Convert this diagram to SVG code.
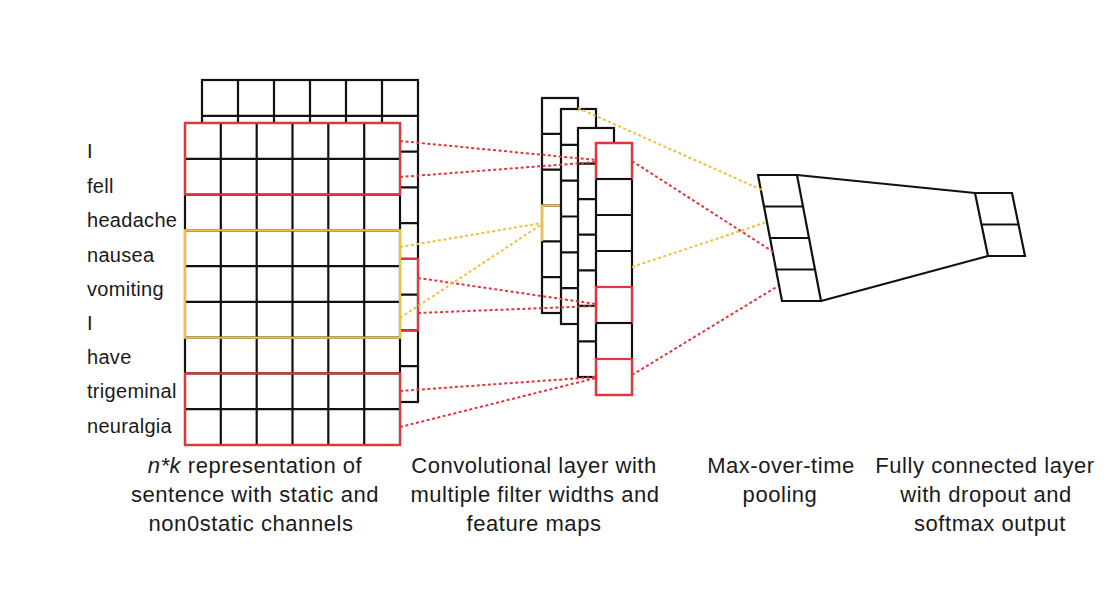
<svg xmlns="http://www.w3.org/2000/svg" width="1106" height="608" viewBox="0 0 1106 608">
<style>
.cell{fill:#fff;stroke:#111;stroke-width:2.2}
.ln{fill:none;stroke:#111;stroke-width:2.2}
.hr{fill:none;stroke:#e2363c;stroke-width:2.2}
.hy{fill:none;stroke:#f0bf3c;stroke-width:2.2}
.dr{fill:none;stroke:#e2363c;stroke-width:2;stroke-dasharray:3 2.5}
.dy{fill:none;stroke:#f0bf3c;stroke-width:2;stroke-dasharray:3 2.5}
.w{font-family:"Liberation Sans",Arial,sans-serif;font-size:20px;fill:#1a1a1a;letter-spacing:0.3px}
.cap{font-family:"Liberation Sans",Arial,sans-serif;font-size:22px;fill:#1a1a1a;letter-spacing:0.55px;text-anchor:middle}
</style>
<rect width="1106" height="608" fill="#fff"/>

<g id="input-static">
<rect class="cell" x="202" y="80" width="216" height="322"/>
<path class="ln" d="M238,80V402M274,80V402M310,80V402M346,80V402M382,80V402M202,115.8H418M202,151.6H418M202,187.3H418M202,223.1H418M202,258.9H418M202,294.7H418M202,330.4H418M202,366.2H418"/>
<rect class="hr" x="202" y="258.9" width="216" height="71.5"/>
</g>

<g id="input-nonstatic">
<rect class="cell" x="185" y="123" width="215" height="322"/>
<path class="ln" d="M220.8,123V445M256.7,123V445M292.5,123V445M328.3,123V445M364.2,123V445M185,158.8H400M185,194.6H400M185,230.3H400M185,266.1H400M185,301.9H400M185,337.7H400M185,373.4H400M185,409.2H400"/>
<rect class="hr" x="185" y="123" width="215" height="71.6"/>
<rect class="hy" x="185" y="230.3" width="215" height="107.4"/>
<rect class="hr" x="185" y="373.4" width="215" height="71.6"/>
</g>

<g id="words">
<text class="w" x="87" y="158">I</text>
<text class="w" x="87" y="193">fell</text>
<text class="w" x="87" y="227">headache</text>
<text class="w" x="87" y="262">nausea</text>
<text class="w" x="87" y="296">vomiting</text>
<text class="w" x="87" y="330">I</text>
<text class="w" x="87" y="364">have</text>
<text class="w" x="87" y="398">trigeminal</text>
<text class="w" x="87" y="433">neuralgia</text>
</g>

<g id="feature-map-1">
<rect class="cell" x="542" y="98" width="36" height="215"/>
<path class="ln" d="M542,133.8H578M542,169.7H578M542,205.5H578M542,241.3H578M542,277.2H578"/>
<path class="hy" d="M561,205.5H542V241.3"/>
</g>
<g id="feature-map-2">
<rect class="cell" x="561" y="109" width="35" height="215"/>
<path class="ln" d="M561,144.8H596M561,180.7H596M561,216.5H596M561,252.3H596M561,288.2H596"/>
</g>
<g id="feature-map-3">
<rect class="cell" x="578" y="128" width="36" height="249"/>
<path class="ln" d="M578,163.6H614M578,199.1H614M578,234.7H614M578,270.3H614M578,305.9H614M578,341.4H614"/>
</g>
<g id="feature-map-4">
<rect class="cell" x="596" y="143" width="36" height="252"/>
<rect class="hr" x="596" y="143" width="36" height="36"/>
<rect class="hr" x="596" y="287" width="36" height="36"/>
<rect class="hr" x="596" y="359" width="36" height="36"/>
<path class="ln" d="M596,179H632M596,215H632M596,251H632M596,323H632"/>
</g>

<g id="pooling">
<path class="cell" d="M758,175H797L821,301H782Z"/>
<path class="ln" d="M764,206.5H803M770,238H809M776,269.5H815"/>
</g>

<g id="fully-connected">
<path class="ln" d="M797,175L975,193M821,301L988,256"/>
<path class="cell" d="M975,193H1012L1025,256H988Z"/>
<path class="ln" d="M981.5,224.5H1018.5"/>
</g>

<g id="connectors">
<path class="dr" d="M400,141L596,160"/>
<path class="dr" d="M400,177L596,162"/>
<path class="dr" d="M418,278L596,304"/>
<path class="dr" d="M418,313L596,306"/>
<path class="dr" d="M400,391L596,377"/>
<path class="dr" d="M400,427L596,378"/>
<path class="dy" d="M400,247L542,223"/>
<path class="dy" d="M400,318L542,224"/>
<path class="dy" d="M578,108L762,190"/>
<path class="dy" d="M632,267L767,222"/>
<path class="dr" d="M632,161L775,253"/>
<path class="dr" d="M632,375L778,286"/>
</g>

<g id="captions">
<text class="cap" x="255" y="473"><tspan font-style="italic">n*k</tspan> representation of</text>
<text class="cap" x="255" y="502">sentence with static and</text>
<text class="cap" x="251" y="531">non0static channels</text>
<text class="cap" x="534" y="473">Convolutional layer with</text>
<text class="cap" x="535" y="502">multiple filter widths and</text>
<text class="cap" x="534" y="531">feature maps</text>
<text class="cap" x="781" y="473">Max-over-time</text>
<text class="cap" x="780" y="502">pooling</text>
<text class="cap" x="985" y="473">Fully connected layer</text>
<text class="cap" x="986" y="502">with dropout and</text>
<text class="cap" x="990" y="531">softmax output</text>
</g>
</svg>
